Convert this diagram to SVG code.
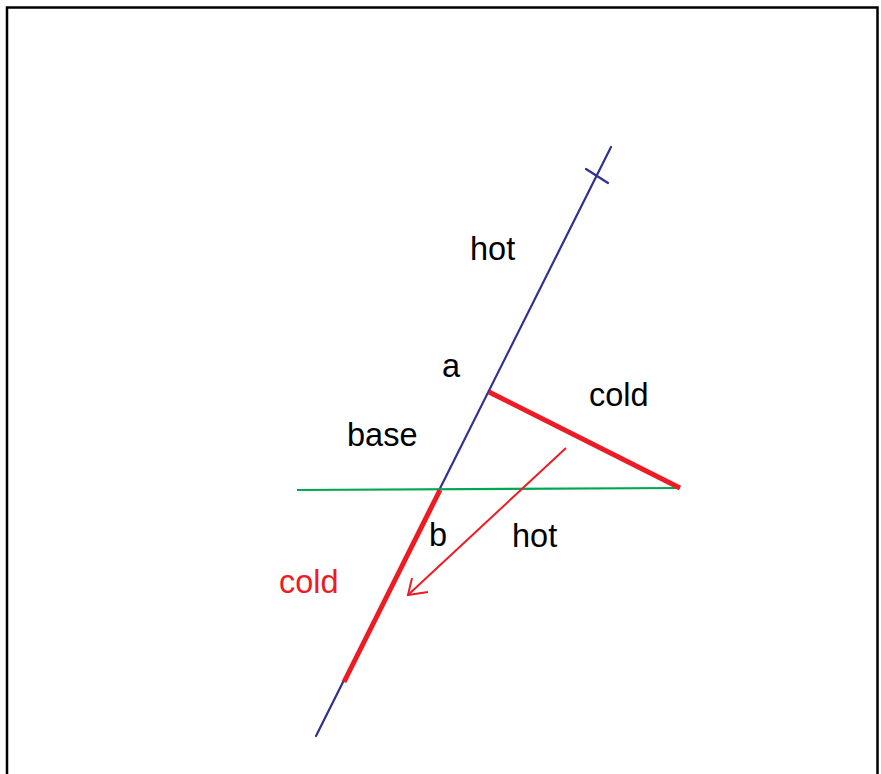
<svg xmlns="http://www.w3.org/2000/svg" width="881" height="774" viewBox="0 0 881 774">
<style>
.t{font-family:"Liberation Sans",Arial,sans-serif;font-size:32.5px;fill:#000}
.r{fill:#ed1c24}
.blue{stroke:#2e3192;stroke-width:2.2;fill:none;stroke-linecap:round}
.thick{stroke:#ed1c24;stroke-width:5;fill:none}
.thin{stroke:#ed1c24;stroke-width:2;fill:none}
</style>
<rect x="0" y="0" width="881" height="774" fill="#fff"/>
<rect x="7" y="7.5" width="870.5" height="780" fill="none" stroke="#000" stroke-width="2.5"/>
<g id="connectors">
<line class="blue" x1="611" y1="147" x2="316" y2="736"/>
<line class="blue" x1="586" y1="169" x2="608" y2="183"/>
<line x1="297" y1="490" x2="680" y2="488" stroke="#00a651" stroke-width="2.2"/>
<line class="thick" x1="489" y1="392" x2="680" y2="488"/>
<line class="thick" x1="440" y1="490" x2="344" y2="682"/>
<line class="thin" x1="566" y1="448" x2="408" y2="595"/>
<polyline class="thin" points="412,578 408,595 428,592"/>
</g>
<g id="labels">
<text class="t" x="470" y="260">hot</text>
<text class="t" x="442" y="377">a</text>
<text class="t" x="589" y="406">cold</text>
<text class="t" x="347" y="446">base</text>
<text class="t" x="429" y="546">b</text>
<text class="t" x="512" y="547">hot</text>
<text class="t r" x="279" y="593">cold</text>
</g>
</svg>
